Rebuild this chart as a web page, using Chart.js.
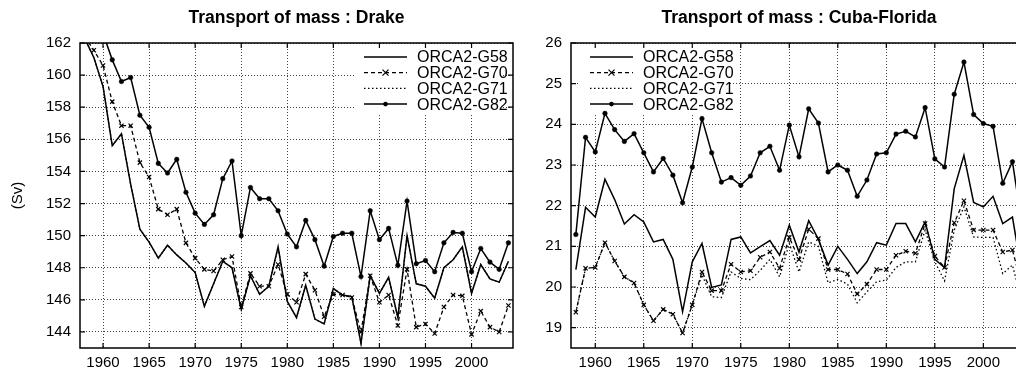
<!DOCTYPE html>
<html>
<head>
<meta charset="utf-8">
<script src="https://cdn.jsdelivr.net/npm/chart.js@4.4.0/dist/chart.umd.min.js"></script>
<style>
  html, body { margin: 0; padding: 0; background: #fff; overflow: hidden; width: 1016px; height: 371px; }
  canvas { position: absolute; top: 0; }
  #drake { left: 0; }
  #cuba { left: 508px; }
</style>
</head>
<body>
<canvas id="drake" width="520" height="371"></canvas>
<canvas id="cuba" width="529" height="371"></canvas>
<script>
// years of the runs
const years = [1958, 1959, 1960, 1961, 1962, 1963, 1964, 1965, 1966, 1967,
  1968, 1969, 1970, 1971, 1972, 1973, 1974, 1975, 1976, 1977,
  1978, 1979, 1980, 1981, 1982, 1983, 1984, 1985, 1986, 1987,
  1988, 1989, 1990, 1991, 1992, 1993, 1994, 1995, 1996, 1997,
  1998, 1999, 2000, 2001, 2002, 2003, 2004];
const seriesNames = ['ORCA2-G58', 'ORCA2-G70', 'ORCA2-G71', 'ORCA2-G82'];

// Drake passage (Sv)
const drakeG58 = [162.3, 161.1, 159.3, 155.6, 156.35, 153.2, 150.4, 149.6, 148.6, 149.4,
  148.8, 148.3, 147.7, 145.6, 147.0, 148.4, 148.0, 145.4, 147.5, 146.35,
  146.85, 149.3, 145.9, 144.9, 146.9, 144.8, 144.5, 146.7, 146.3, 146.2,
  143.3, 147.5, 146.4, 147.4, 144.9, 150.0, 147.0, 146.85, 146.1, 148.0,
  148.5, 149.3, 146.4, 148.2, 147.3, 147.1, 148.4];
const drakeG70 = [162.4, 161.55, 160.6, 158.35, 156.85, 156.85, 154.55, 153.65, 151.65, 151.3,
  151.65, 149.55, 148.6, 147.9, 147.8, 148.5, 148.7, 145.55, 147.65, 146.85,
  146.85, 148.2, 146.35, 145.85, 147.6, 146.6, 144.95, 146.35, 146.3, 146.15,
  144.0, 147.5, 145.85, 146.3, 144.4, 147.9, 144.3, 144.5, 143.9, 145.55,
  146.3, 146.25, 143.85, 145.3, 144.3, 144.0, 145.65];
const drakeG71 = [162.3, 161.1, 159.3, 155.6, 156.35, 153.2, 150.4, 149.6, 148.6, 149.4,
  148.8, 148.3, 147.7, 145.6, 147.0, 148.4, 148.0, 145.4, 147.5, 146.35,
  146.85, 149.3, 145.9, 144.9, 146.9, 144.8, 144.5, 146.7, 146.3, 146.2,
  143.3, 147.5, 146.4, 147.4, 144.9, 150.0, 147.0, 146.85, 146.1, 148.0,
  148.5, 149.3, 146.4, 148.2, 147.3, 147.1, 148.4];
const drakeG82 = [166.0, 164.5, 162.6, 160.95, 159.6, 159.85, 157.5, 156.75, 154.5, 153.9,
  154.75, 152.7, 151.4, 150.7, 151.3, 153.55, 154.65, 150.0, 153.0, 152.3,
  152.3, 151.55, 150.1, 149.3, 150.95, 149.75, 148.1, 149.95, 150.15, 150.15,
  147.45, 151.55, 149.75, 150.45, 148.15, 152.15, 148.25, 148.45, 147.75, 149.55,
  150.2, 150.15, 147.75, 149.2, 148.35, 147.9, 149.55];

// Cuba-Florida strait (Sv)
const cubaG58 = [20.43, 21.96, 21.72, 22.65, 22.15, 21.55, 21.78, 21.6, 21.11, 21.17,
  20.68, 19.39, 20.62, 21.07, 19.99, 20.05, 21.17, 21.23, 20.84, 20.99,
  21.14, 20.78, 21.52, 20.86, 21.63, 21.17, 20.54, 21.0, 20.68, 20.33,
  20.62, 21.09, 21.03, 21.56, 21.56, 21.11, 21.6, 20.68, 20.48, 22.42,
  23.24, 22.08, 21.97, 22.23, 21.56, 21.72, 20.3];
const cubaG70 = [19.38, 20.46, 20.48, 21.09, 20.64, 20.25, 20.10, 19.56, 19.17, 19.45,
  19.33, 18.87, 19.56, 20.37, 19.91, 19.91, 20.56, 20.37, 20.40, 20.73,
  20.86, 20.46, 21.22, 20.68, 21.42, 21.19, 20.43, 20.43, 20.32, 19.83,
  20.07, 20.43, 20.43, 20.78, 20.88, 20.83, 21.56, 20.76, 20.48, 21.58,
  22.12, 21.4, 21.4, 21.4, 20.86, 20.91, 20.0];
const cubaG71 = [19.38, 20.46, 20.48, 21.09, 20.64, 20.25, 20.10, 19.56, 19.17, 19.45,
  19.33, 18.87, 19.56, 20.3, 19.76, 19.74, 20.37, 20.21, 20.18, 20.41,
  20.68, 20.25, 21.07, 20.37, 21.11, 21.0, 20.10, 20.19, 20.07, 19.61,
  19.88, 20.13, 20.17, 20.48, 20.62, 20.62, 21.4, 20.62, 20.15, 21.4,
  21.97, 21.23, 21.22, 21.22, 20.33, 20.54, 19.6];
const cubaG82 = [21.29, 23.68, 23.32, 24.27, 23.87, 23.58, 23.77, 23.30, 22.83, 23.16,
  22.75, 22.07, 22.95, 24.14, 23.30, 22.58, 22.69, 22.50, 22.73, 23.30,
  23.46, 22.87, 23.98, 23.2, 24.38, 24.03, 22.83, 23.0, 22.87, 22.23,
  22.63, 23.27, 23.30, 23.76, 23.83, 23.69, 24.41, 23.15, 22.95, 24.74,
  25.53, 24.24, 24.02, 23.95, 22.55, 23.08, 21.5];

// tick labels
const yearTicks = [1960, 1965, 1970, 1975, 1980, 1985, 1990, 1995, 2000];
const drakeTicks = [144, 146, 148, 150, 152, 154, 156, 158, 160, 162];
const cubaTicks = [19, 20, 21, 22, 23, 24, 25, 26];

const FONT = '"Liberation Sans", Arial, Helvetica, sans-serif';
Chart.defaults.font.family = FONT;
Chart.defaults.color = '#000';
Chart.defaults.animation = false;

function makeSets(a, b, c, d) {
  const xy = arr => arr.map((v, i) => ({ x: years[i], y: v }));
  return [
    { label: seriesNames[0], data: xy(a), borderWidth: 1.5, pointRadius: 0 },
    { label: seriesNames[1], data: xy(b), borderWidth: 1.3, borderDash: [4, 3], pointStyle: 'crossRot', pointRadius: 3, pointBorderWidth: 1.2 },
    { label: seriesNames[2], data: xy(c), borderWidth: 1.3, borderDash: [1.5, 2.5], pointRadius: 0 },
    { label: seriesNames[3], data: xy(d), borderWidth: 1.5, pointStyle: 'circle', pointRadius: 2.3, pointBorderWidth: 0.5 }
  ].map(ds => Object.assign({ borderColor: '#000', backgroundColor: '#000', pointBorderColor: '#000', pointBackgroundColor: '#000', tension: 0, fill: false, pointHoverRadius: 0 }, ds));
}

// gnuplot style box + inward ticks
const framePlugin = {
  id: 'frame',
  afterDatasetsDraw(chart) {
    const { ctx, chartArea: a, scales } = chart;
    ctx.save();
    ctx.strokeStyle = '#000';
    ctx.lineWidth = 1.5;
    ctx.setLineDash([]);
    ctx.strokeRect(a.left, a.top, a.right - a.left, a.bottom - a.top);
    ctx.lineWidth = 1.2;
    ctx.beginPath();
    scales.x.ticks.forEach(t => {
      const px = scales.x.getPixelForValue(t.value);
      ctx.moveTo(px, a.bottom); ctx.lineTo(px, a.bottom - 5);
      ctx.moveTo(px, a.top); ctx.lineTo(px, a.top + 5);
    });
    scales.y.ticks.forEach(t => {
      const py = scales.y.getPixelForValue(t.value);
      ctx.moveTo(a.left, py); ctx.lineTo(a.left + 5, py);
      ctx.moveTo(a.right, py); ctx.lineTo(a.right - 5, py);
    });
    ctx.stroke();
    ctx.restore();
  }
};

// key drawn inside the plot, like gnuplot
const keyPlugin = {
  id: 'key',
  beforeDatasetsDraw(chart, args, opts) {
    const { ctx, chartArea: a } = chart;
    const x0 = a.left + opts.dx;
    const sample = 43, gap = 10;
    ctx.save();
    ctx.fillStyle = '#fff';
    ctx.fillRect(x0 - 10, a.top + 1, Math.min(sample + gap + 96, a.right - x0 + 9), opts.dy + opts.rowGap * 3 + 9);
    ctx.font = '16px ' + FONT;
    ctx.textBaseline = 'middle';
    chart.data.datasets.forEach((ds, i) => {
      const y = a.top + opts.dy + i * opts.rowGap;
      ctx.strokeStyle = '#000';
      ctx.lineWidth = ds.borderWidth;
      ctx.setLineDash(ds.borderDash || []);
      ctx.beginPath();
      ctx.moveTo(x0, y);
      ctx.lineTo(x0 + sample, y);
      ctx.stroke();
      ctx.setLineDash([]);
      const cx = x0 + sample / 2;
      if (ds.pointStyle === 'crossRot') {
        const r = ds.pointRadius;
        ctx.lineWidth = ds.pointBorderWidth;
        ctx.beginPath();
        ctx.moveTo(cx - r, y - r); ctx.lineTo(cx + r, y + r);
        ctx.moveTo(cx - r, y + r); ctx.lineTo(cx + r, y - r);
        ctx.stroke();
      } else if (ds.pointStyle === 'circle') {
        ctx.fillStyle = '#000';
        ctx.beginPath();
        ctx.arc(cx, y, ds.pointRadius, 0, Math.PI * 2);
        ctx.fill();
      }
      ctx.fillStyle = '#000';
      ctx.fillText(ds.label, x0 + sample + gap, y + 1);
    });
    ctx.restore();
  }
};

function makeChart(id, title, sets, yMin, yMax, yTicks, yWidth, padRight, yTitle, keyDx) {
  const ctx = document.getElementById(id).getContext('2d');
  return new Chart(ctx, {
    type: 'line',
    data: { datasets: sets },
    plugins: [keyPlugin, framePlugin],
    options: {
      responsive: false,
      animation: false,
      events: [],
      layout: { padding: { left: 0, right: padRight, top: 0, bottom: 0 } },
      plugins: {
        legend: { display: false },
        tooltip: { enabled: false },
        title: {
          display: true,
          text: title,
          fullSize: false,
          color: '#000',
          font: { size: 17.5, weight: 'bold', family: FONT, lineHeight: 1.2 },
          padding: { top: 8, bottom: 14 }
        },
        key: { dx: keyDx, dy: 14, rowGap: 15.7 }
      },
      scales: {
        x: {
          type: 'linear',
          min: 1957.5,
          max: 2004.5,
          afterBuildTicks: s => { s.ticks = yearTicks.map(v => ({ value: v })); },
          afterFit: s => { s.height = 23; },
          ticks: { font: { size: 15 }, padding: 6, maxRotation: 0, autoSkip: false, callback: v => String(v) },
          grid: { color: '#444', lineWidth: 1, drawTicks: false },
          border: { display: false, dash: [1, 2] }
        },
        y: {
          min: yMin,
          max: yMax,
          afterBuildTicks: s => { s.ticks = yTicks.map(v => ({ value: v })); },
          afterFit: s => { s.width = yWidth; },
          ticks: { font: { size: 15 }, padding: 9, callback: v => String(v) },
          grid: { color: '#444', lineWidth: 1, drawTicks: false },
          border: { display: false, dash: [1, 2] },
          title: { display: !!yTitle, text: yTitle || '', font: { size: 15 }, padding: { top: 9, bottom: 0 } }
        }
      }
    }
  });
}

makeChart('drake', 'Transport of mass : Drake', makeSets(drakeG58, drakeG70, drakeG71, drakeG82),
  143, 162, drakeTicks, 80, 7, '(Sv)', 284);
makeChart('cuba', 'Transport of mass : Cuba-Florida', makeSets(cubaG58, cubaG70, cubaG71, cubaG82),
  18.5, 26, cubaTicks, 63, 10, '', 19);
</script>
</body>
</html>
